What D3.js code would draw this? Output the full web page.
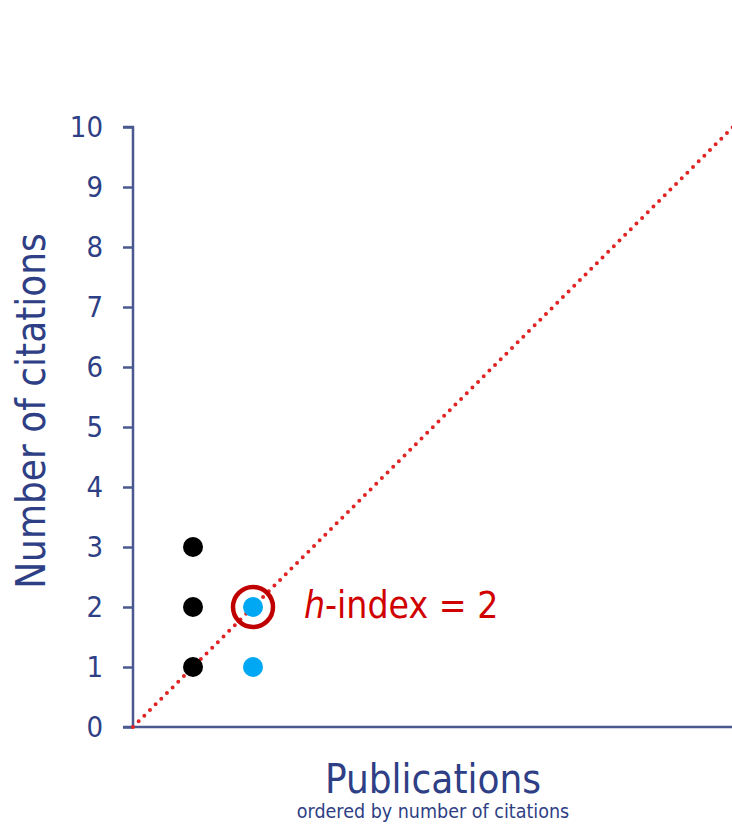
<!DOCTYPE html>
<html>
<head>
<meta charset="utf-8">
<script src="https://cdn.jsdelivr.net/npm/d3@7"></script>
<style>
  body { margin: 0; background: #fff; }
  svg { display: block; }
</style>
</head>
<body>
<div id="chart"></div>
<script>
const WIDTH = 732, HEIGHT = 824;
const MARGIN = { LEFT: 133, RIGHT: 0, TOP: 127, BOTTOM: 97 };
const innerWidth = WIDTH - MARGIN.LEFT - MARGIN.RIGHT;
const innerHeight = HEIGHT - MARGIN.TOP - MARGIN.BOTTOM;

// publications ordered by number of citations
const pubRank = [1, 1, 1, 2, 2];
const citations = [3, 2, 1, 2, 1];
const pointColor = ["black", "black", "black", "blue", "blue"];
const yTicks = [0, 1, 2, 3, 4, 5, 6, 7, 8, 9, 10];
const hIndex = 2;

const AXIS_COLOR = "#4a5a90";
const TEXT_COLOR = "#2f3f85";
const FONT = "'DejaVu Sans Condensed', 'DejaVu Sans', sans-serif";

const svg = d3.select("#chart")
    .append("svg")
    .attr("width", WIDTH)
    .attr("height", HEIGHT)
    .append("g")
    .attr("transform", `translate(${MARGIN.LEFT}, ${MARGIN.TOP})`);

const xScale = d3.scaleLinear()
    .domain([0, 10])
    .range([0, 600]);

const yScale = d3.scaleLinear()
    .domain([0, 10])
    .range([innerHeight, innerHeight - 600]);

// y axis
const yAxis = d3.axisLeft(yScale).tickValues(yTicks).tickSize(10).tickPadding(20);
const gy = svg.append("g").call(yAxis);
gy.select(".domain").attr("stroke", AXIS_COLOR).attr("stroke-width", 2.5)
    .attr("d", `M-10,${yScale(10)}H0V${yScale(0)}`);
gy.selectAll(".tick line").attr("stroke", AXIS_COLOR).attr("stroke-width", 2.5);
gy.selectAll(".tick text")
    .attr("fill", TEXT_COLOR)
    .attr("font-size", "29px")
    .attr("font-family", FONT);

// x axis (no ticks)
svg.append("line")
    .attr("x1", -10).attr("x2", innerWidth)
    .attr("y1", yScale(0)).attr("y2", yScale(0))
    .attr("stroke", AXIS_COLOR)
    .attr("stroke-width", 2.5);

// diagonal y = x
svg.append("line")
    .attr("x1", xScale(0)).attr("y1", yScale(0))
    .attr("x2", xScale(10)).attr("y2", yScale(10))
    .attr("stroke", "#e02424")
    .attr("stroke-width", 4)
    .attr("stroke-linecap", "round")
    .attr("stroke-dasharray", "0,8");

// points
svg.selectAll(".pt")
    .data(pubRank.map((p, i) => ({ p, c: citations[i], col: pointColor[i] })))
    .enter().append("circle")
    .attr("class", "pt")
    .attr("cx", d => xScale(d.p))
    .attr("cy", d => yScale(d.c))
    .attr("r", 10)
    .attr("fill", d => d.col === "blue" ? "#00a8f3" : "#000");

// h-index marker
svg.append("circle")
    .attr("cx", xScale(hIndex))
    .attr("cy", yScale(hIndex))
    .attr("r", 20)
    .attr("fill", "none")
    .attr("stroke", "#c00000")
    .attr("stroke-width", 4.5);

const hText = svg.append("text")
    .attr("x", xScale(hIndex) + 51)
    .attr("y", yScale(hIndex) + 11)
    .attr("fill", "#d00000")
    .attr("font-size", "37px")
    .attr("font-family", FONT);
hText.append("tspan").attr("font-style", "italic").text("h");
hText.append("tspan").text(`-index = ${hIndex}`);

// axis labels
svg.append("text")
    .attr("transform", `translate(${31 - MARGIN.LEFT}, ${411 - MARGIN.TOP}) rotate(-90)`)
    .attr("text-anchor", "middle")
    .attr("dominant-baseline", "central")
    .attr("fill", TEXT_COLOR)
    .attr("font-size", "40px")
    .attr("font-family", FONT)
    .text("Number of citations");

svg.append("text")
    .attr("x", 433 - MARGIN.LEFT)
    .attr("y", 793 - MARGIN.TOP)
    .attr("text-anchor", "middle")
    .attr("fill", TEXT_COLOR)
    .attr("font-size", "40px")
    .attr("font-family", FONT)
    .text("Publications");

svg.append("text")
    .attr("x", 433 - MARGIN.LEFT)
    .attr("y", 818 - MARGIN.TOP)
    .attr("text-anchor", "middle")
    .attr("fill", TEXT_COLOR)
    .attr("font-size", "19.5px")
    .attr("font-family", FONT)
    .text("ordered by number of citations");
</script>
</body>
</html>
